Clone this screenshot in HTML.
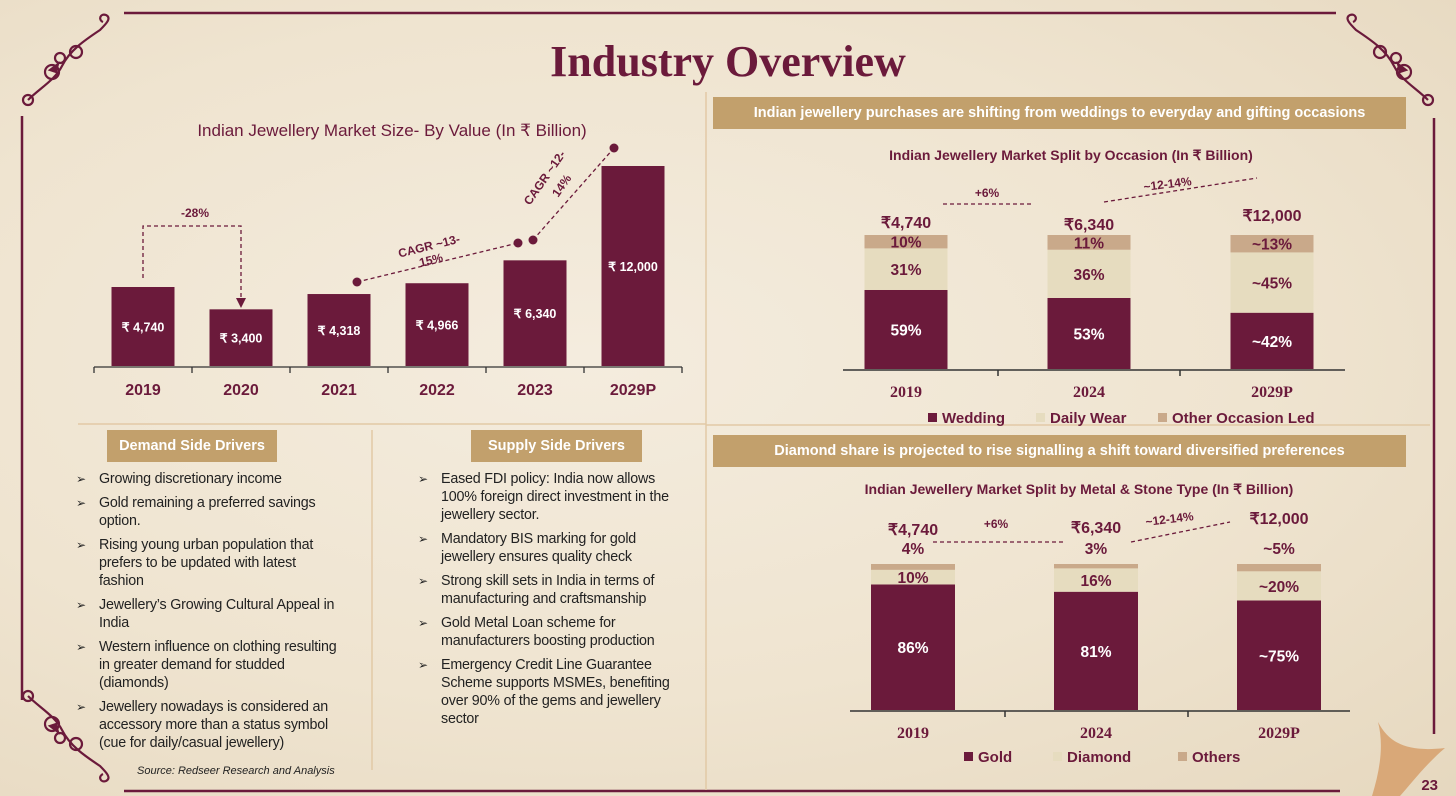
<!DOCTYPE html>
<html><head><meta charset="utf-8">
<style>
html,body{margin:0;padding:0}
body{width:1456px;height:796px;position:relative;overflow:hidden;font-family:"Liberation Sans",sans-serif;
background:radial-gradient(ellipse at 40% 45%,#f4ecde 0%,#efe4d0 55%,#e6d8bf 100%);}
.abs{position:absolute}
.banner{position:absolute;background:#c2a06c;color:#fff;font-weight:bold;font-size:14.5px;text-align:center;line-height:32px}
ul{list-style:none;margin:0;padding:0;position:absolute;font-size:14.3px;line-height:18px;color:#222;letter-spacing:-0.2px;white-space:nowrap}
li{position:relative;padding-left:0;margin-bottom:6px}
li:before{content:"➢";position:absolute;left:-23px;font-size:12px;color:#222}
</style></head><body>
<svg class="abs" style="left:0;top:0" width="1456" height="796">
 <g stroke="#6b1a3b" fill="none" stroke-width="2.5">
  <line x1="124" y1="13" x2="1336" y2="13"/>
  <line x1="124" y1="791" x2="1340" y2="791"/>
  <line x1="22" y1="116" x2="22" y2="700"/>
  <line x1="1434" y1="118" x2="1434" y2="734"/>
 </g>
 <g stroke="#e2c9a6" stroke-width="1.5">
  <line x1="706" y1="92" x2="706" y2="790"/>
  <line x1="78" y1="424" x2="706" y2="424"/>
  <line x1="706" y1="425" x2="1430" y2="425"/>
  <line x1="372" y1="430" x2="372" y2="770"/>
 </g>
 <g id="orn" stroke="#6b1a3b" fill="none" stroke-width="2.2">
  <path d="M28,100 C40,88 55,80 62,66 C70,50 85,40 100,30 C106,24 112,18 106,15 C100,13 98,20 103,22"/>
  <circle cx="28" cy="100" r="5"/><circle cx="52" cy="72" r="7"/><circle cx="76" cy="52" r="6"/><circle cx="60" cy="58" r="5"/>
  <path d="M50,70 l8,-6 l-2,8z" fill="#6b1a3b"/>
 </g>
 <use href="#orn" transform="translate(1456,0) scale(-1,1)"/>
 <use href="#orn" transform="translate(0,796) scale(1,-1)"/>
 <path d="M1378,722 C1390,745 1410,752 1445,748 C1425,765 1410,785 1400,796 L1372,796 C1380,770 1384,745 1378,722z" fill="#d9a878"/>
 <text x="1438" y="790" text-anchor="end" font-size="15" font-weight="bold" fill="#6b1a3b">23</text>
 <text x="728" y="76" text-anchor="middle" font-family="Liberation Serif,serif" font-weight="bold" font-size="44" fill="#6b1a3b">Industry Overview</text>
 <text x="392" y="136" text-anchor="middle" font-size="17" fill="#6b1a3b">Indian Jewellery Market Size- By Value (In ₹ Billion)</text>
 <text x="1071" y="160" text-anchor="middle" font-size="14" font-weight="bold" fill="#6b1a3b">Indian Jewellery Market Split by Occasion (In ₹ Billion)</text>
 <text x="1079" y="494" text-anchor="middle" font-size="14" font-weight="bold" fill="#6b1a3b">Indian Jewellery Market Split by Metal &amp; Stone Type  (In ₹ Billion)</text>
 <g id="left-chart"></g>
 <g id="occ-chart"></g>
 <g id="met-chart"></g>
 <g stroke="#6b1a3b" stroke-width="1.3" stroke-dasharray="4,3" fill="none">
  <polyline points="143,278 143,226 241,226 241,298"/>
  <line x1="357" y1="282" x2="518" y2="243"/>
  <line x1="533" y1="240" x2="614" y2="148"/>
  <line x1="943" y1="204" x2="1033" y2="204"/>
  <line x1="1104" y1="202" x2="1257" y2="178"/>
  <line x1="933" y1="542" x2="1066" y2="542"/>
  <line x1="1131" y1="542" x2="1230" y2="522"/>
 </g>
 <g fill="#6b1a3b">
  <path d="M236,298 L246,298 L241,308z"/>
  <circle cx="357" cy="282" r="4.5"/><circle cx="518" cy="243" r="4.5"/><circle cx="533" cy="240" r="4.5"/><circle cx="614" cy="148" r="4.5"/>
 </g>
 <g fill="#6b1a3b" font-size="12" font-weight="bold">
  <text x="195" y="217" text-anchor="middle">-28%</text>
  <text x="430" y="250" text-anchor="middle" transform="rotate(-14 430 250)">CAGR ~13-</text>
  <text x="432" y="264" text-anchor="middle" transform="rotate(-14 432 264)">15%</text>
  <text x="548" y="180" text-anchor="middle" transform="rotate(-55 548 180)">CAGR ~12-</text>
  <text x="565" y="188" text-anchor="middle" transform="rotate(-55 565 188)">14%</text>
  <text x="987" y="197" text-anchor="middle">+6%</text>
  <text x="1168" y="188" text-anchor="middle" transform="rotate(-7 1168 188)">~12-14%</text>
  <text x="996" y="528" text-anchor="middle">+6%</text>
  <text x="1170" y="523" text-anchor="middle" transform="rotate(-7 1170 523)">~12-14%</text>
 </g>
</svg>

<div class="banner" style="left:713px;top:97px;width:693px">Indian jewellery purchases are shifting from weddings to everyday and gifting occasions</div>
<div class="banner" style="left:713px;top:435px;width:693px">Diamond share is projected to rise signalling a shift toward diversified preferences</div>
<div class="banner" style="left:107px;top:430px;width:170px">Demand Side Drivers</div>
<div class="banner" style="left:471px;top:430px;width:171px">Supply Side Drivers</div>

<ul style="left:99px;top:470px;width:265px">
 <li>Growing discretionary income</li>
 <li>Gold remaining a preferred savings<br>option.</li>
 <li>Rising young urban population that<br>prefers to be updated with latest<br>fashion</li>
 <li>Jewellery’s Growing Cultural Appeal in<br>India</li>
 <li>Western influence on clothing resulting<br>in greater demand for studded<br>(diamonds)</li>
 <li>Jewellery nowadays is considered an<br>accessory more than a status symbol<br>(cue for daily/casual jewellery)</li>
</ul>
<ul style="left:441px;top:470px;width:250px">
 <li>Eased FDI policy: India now allows<br>100% foreign direct investment in the<br>jewellery sector.</li>
 <li>Mandatory BIS marking for gold<br>jewellery ensures quality check</li>
 <li>Strong skill sets in India in terms of<br>manufacturing and craftsmanship</li>
 <li>Gold Metal Loan scheme for<br>manufacturers boosting production</li>
 <li>Emergency Credit Line Guarantee<br>Scheme supports MSMEs, benefiting<br>over 90% of the gems and jewellery<br>sector</li>
</ul>
<div class="abs" style="left:137px;top:765px;font-size:11px;font-style:italic;color:#222">Source: Redseer Research and Analysis</div>

<script>
const NS="http://www.w3.org/2000/svg";
const MAROON="#6b1a3b",BEIGE="#e6dcbf",TAN="#c9a98a";
// left chart data
const sizeYears=["2019","2020","2021","2022","2023","2029P"];
const sizeValues=[4740,3400,4318,4966,6340,12000];
const sizeLabels=["₹ 4,740","₹ 3,400","₹ 4,318","₹ 4,966","₹ 6,340","₹ 12,000"];
// occasion chart data
const occYears=["2019","2024","2029P"];
const occTotals=["₹4,740","₹6,340","₹12,000"];
const occWedding=[59,53,42];
const occDaily=[31,36,45];
const occOther=[10,11,13];
const occWeddingLbl=["59%","53%","~42%"];
const occDailyLbl=["31%","36%","~45%"];
const occOtherLbl=["10%","11%","~13%"];
// metal chart data
const metYears=["2019","2024","2029P"];
const metTotals=["₹4,740","₹6,340","₹12,000"];
const metGold=[86,81,75];
const metDiamond=[10,16,20];
const metOthers=[4,3,5];
const metGoldLbl=["86%","81%","~75%"];
const metDiamondLbl=["10%","16%","~20%"];
const metOthersLbl=["4%","3%","~5%"];

function mk(parent,tag,attrs,txt){const e=document.createElementNS(NS,tag);for(const k in attrs)e.setAttribute(k,attrs[k]);if(txt!==undefined)e.textContent=txt;parent.appendChild(e);return e;}

(function(){
 const g=document.getElementById('left-chart');
 const base=366,scale=200/12000,x0=94,step=98,bw=63;
 const xC=i=>x0+step*i+step/2, yS=v=>base-v*scale;
 mk(g,'line',{x1:x0,y1:base+1,x2:x0+step*6,y2:base+1,stroke:'#333','stroke-width':1.3});
 for(let i=0;i<=6;i++) mk(g,'line',{x1:x0+step*i,y1:base+1,x2:x0+step*i,y2:base+7,stroke:'#333','stroke-width':1.3});
 sizeValues.forEach((v,i)=>{
  const r=mk(g,'rect',{x:xC(i)-bw/2,y:yS(v),width:bw,height:v*scale,fill:MAROON});
  
  
  const t=mk(g,'text',{x:xC(i),y:(yS(v)+base)/2+5,'text-anchor':'middle',fill:'#fff','font-size':12.5,'font-weight':'bold'},sizeLabels[i]);
  
  
  const xl=mk(g,'text',{x:xC(i),y:395,'text-anchor':'middle',fill:MAROON,'font-size':16,'font-weight':'bold'},sizeYears[i]);
  
  
 });
})();

function stacked(gid,years,series,labels,colors,txtColors,cfg){
 const g=document.getElementById(gid);
 const {centers,bw,base,h,axisL,axisR,ticks,yearY,totals,totY,topOutside,legend,legendY}=cfg;
 mk(g,'line',{x1:axisL,y1:base+1,x2:axisR,y2:base+1,stroke:'#333','stroke-width':1.5});
 ticks.forEach(t=>mk(g,'line',{x1:t,y1:base+1,x2:t,y2:base+7,stroke:'#333','stroke-width':1.5}));
 years.forEach((yr,i)=>{
  let y=base;
  series.forEach((s,k)=>{
   const hh=s[i]/100*h; y-=hh;
   const r=mk(g,'rect',{x:centers[i]-bw/2,y:y,width:bw,height:hh,fill:colors[k]});
   
   
   let ty=y+hh/2+6;
   if(topOutside&&k===series.length-1) ty=y-10;
   const t=mk(g,'text',{x:centers[i],y:ty,'text-anchor':'middle',fill:txtColors[k],'font-size':15.5,'font-weight':'bold'},labels[k][i]);
   
   
  });
  const tt=mk(g,'text',{x:centers[i],y:totY[i],'text-anchor':'middle',fill:MAROON,'font-size':16,'font-weight':'bold'},totals[i]);
  
  
  const xl=mk(g,'text',{x:centers[i],y:yearY,'text-anchor':'middle',fill:MAROON,'font-size':16,'font-weight':'bold','font-family':'Liberation Serif,serif'},yr);
  
  
 });
 legend.forEach((L,k)=>{
  const sq=mk(g,'rect',{x:L[1],y:legendY-10,width:9,height:9,fill:colors[k]});
  
  
  const t=mk(g,'text',{x:L[1]+14,y:legendY,fill:MAROON,'font-size':15,'font-weight':'bold'},L[0]);
  
  
 });
}
stacked('occ-chart',occYears,[occWedding,occDaily,occOther],[occWeddingLbl,occDailyLbl,occOtherLbl],
 [MAROON,BEIGE,TAN],['#fff',MAROON,MAROON],
 {centers:[906,1089,1272],bw:83,base:369,h:134,axisL:843,axisR:1345,ticks:[998,1180],yearY:397,
  totals:occTotals,totY:[228,230,221],topOutside:false,
  legend:[["Wedding",928],["Daily Wear",1036],["Other Occasion Led",1158]],legendY:423});
stacked('met-chart',metYears,[metGold,metDiamond,metOthers],[metGoldLbl,metDiamondLbl,metOthersLbl],
 [MAROON,BEIGE,TAN],['#fff',MAROON,MAROON],
 {centers:[913,1096,1279],bw:84,base:710,h:146,axisL:850,axisR:1350,ticks:[1005,1188],yearY:738,
  totals:metTotals,totY:[535,533,524],topOutside:true,
  legend:[["Gold",964],["Diamond",1053],["Others",1178]],legendY:762});
</script>
</body></html>
